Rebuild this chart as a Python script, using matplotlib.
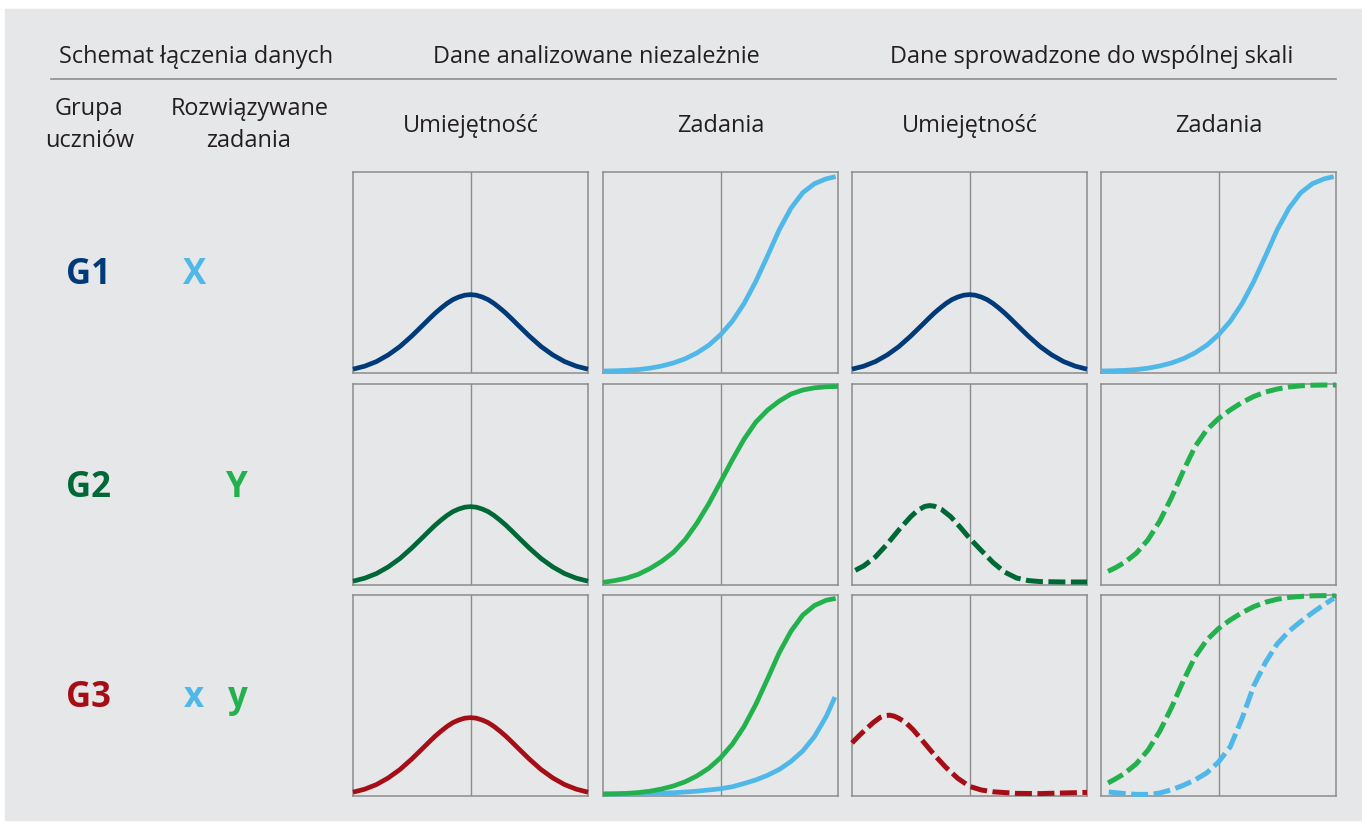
import matplotlib
matplotlib.use("Agg")
import matplotlib.pyplot as plt
from matplotlib.patches import Rectangle
from matplotlib.lines import Line2D

plt.rcParams['font.family'] = ['Open Sans', 'DejaVu Sans']

# colours
DARK_BLUE = '#003a78'
LIGHT_BLUE = '#50b8e8'
DARK_GREEN = '#006837'
GREEN = '#22b14c'
DARK_RED = '#a50e16'
GRID = '#8c8c8c'
TXT = '#231f20'

# header texts
top_headers = ['Schemat łączenia danych', 'Dane analizowane niezależnie',
               'Dane sprowadzone do wspólnej skali']
col_headers = ['Umiejętność', 'Zadania', 'Umiejętność', 'Zadania']
groups = ['G1', 'G2', 'G3']
group_colors = [DARK_BLUE, DARK_GREEN, DARK_RED]

# bell curve (ability distribution), x in panel units 0..1
bell_x = [0.00, 0.05, 0.10, 0.15, 0.20, 0.25, 0.30, 0.325, 0.35, 0.375, 0.40, 0.425, 0.45, 0.475, 0.50,
          0.525, 0.55, 0.575, 0.60, 0.625, 0.65, 0.675, 0.70, 0.75, 0.80, 0.85, 0.90, 0.95, 1.00]
bell_y = [0.019, 0.034, 0.057, 0.090, 0.132, 0.184, 0.241, 0.270, 0.298, 0.323, 0.346, 0.365, 0.378, 0.387, 0.390,
          0.387, 0.378, 0.365, 0.346, 0.323, 0.298, 0.270, 0.241, 0.184, 0.132, 0.090, 0.057, 0.034, 0.019]

# item curve X (independent scale)
itemX_x = [0.00, 0.05, 0.10, 0.15, 0.20, 0.25, 0.30, 0.35, 0.40, 0.45, 0.50, 0.55, 0.60,
           0.65, 0.70, 0.75, 0.80, 0.85, 0.90, 0.95, 0.99]
itemX_y = [0.010, 0.011, 0.013, 0.017, 0.024, 0.035, 0.050, 0.071, 0.100, 0.138, 0.190, 0.257, 0.345,
           0.455, 0.582, 0.713, 0.820, 0.897, 0.942, 0.966, 0.977]

# item curve Y (independent scale, G2)
itemY_x = [0.00, 0.05, 0.10, 0.15, 0.20, 0.25, 0.30, 0.35, 0.40, 0.45, 0.50, 0.55, 0.60,
           0.65, 0.70, 0.75, 0.80, 0.85, 0.90, 0.95, 1.00]
itemY_y = [0.013, 0.022, 0.034, 0.053, 0.082, 0.118, 0.163, 0.226, 0.308, 0.404, 0.512, 0.622, 0.725,
           0.810, 0.870, 0.915, 0.950, 0.970, 0.981, 0.986, 0.988]

# G3 independent: y steep, x only partly
g3y_x = itemX_x
g3y_y = [0.010, 0.011, 0.013, 0.017, 0.024, 0.035, 0.050, 0.071, 0.100, 0.138, 0.190, 0.257, 0.345,
         0.455, 0.582, 0.713, 0.820, 0.900, 0.948, 0.974, 0.983]
g3x_x = [0.00, 0.10, 0.20, 0.30, 0.40, 0.50, 0.55, 0.60, 0.65, 0.70, 0.75, 0.80, 0.85, 0.90, 0.95, 0.987]
g3x_y = [0.010, 0.010, 0.012, 0.016, 0.024, 0.036, 0.046, 0.062, 0.080, 0.103, 0.132, 0.172, 0.224,
         0.296, 0.396, 0.492]

# common scale: G2 ability (shifted left)
g2bell_x = [0.014, 0.05, 0.10, 0.15, 0.20, 0.25, 0.28, 0.31, 0.33, 0.35, 0.38, 0.42, 0.46, 0.50,
            0.55, 0.60, 0.65, 0.70, 0.75, 0.80, 0.90, 1.00]
g2bell_y = [0.073, 0.095, 0.140, 0.204, 0.275, 0.340, 0.372, 0.391, 0.395, 0.392, 0.377, 0.340, 0.288,
            0.233, 0.172, 0.112, 0.064, 0.035, 0.022, 0.017, 0.015, 0.015]

# common scale: G3 ability (shifted further left)
g3bell_x = [0.00, 0.03, 0.06, 0.09, 0.12, 0.14, 0.16, 0.18, 0.20, 0.23, 0.26, 0.30, 0.35, 0.40,
            0.45, 0.50, 0.55, 0.60, 0.70, 0.80, 0.90, 1.00]
g3bell_y = [0.264, 0.300, 0.333, 0.365, 0.391, 0.400, 0.402, 0.397, 0.386, 0.364, 0.330, 0.275, 0.205,
            0.142, 0.088, 0.048, 0.030, 0.021, 0.013, 0.012, 0.015, 0.018]

# common scale: item Y (easier)
cY_x = [0.03, 0.06, 0.10, 0.15, 0.20, 0.25, 0.30, 0.35, 0.40, 0.45, 0.50, 0.55, 0.60, 0.65,
        0.70, 0.75, 0.80, 0.85, 0.90, 0.95, 1.00]
cY_y = [0.068, 0.085, 0.112, 0.158, 0.225, 0.318, 0.435, 0.567, 0.688, 0.772, 0.828, 0.871, 0.908,
        0.938, 0.960, 0.975, 0.985, 0.991, 0.994, 0.995, 0.995]
cY3_y = [0.065, 0.084, 0.112, 0.160, 0.228, 0.322, 0.440, 0.572, 0.692, 0.776, 0.833, 0.876, 0.912,
         0.942, 0.964, 0.979, 0.988, 0.993, 0.996, 0.997, 0.995]

# common scale: item X in G3
cX_x = [0.033, 0.10, 0.15, 0.21, 0.25, 0.30, 0.35, 0.40, 0.45, 0.50, 0.55, 0.60, 0.65, 0.70,
        0.75, 0.80, 0.85, 0.90, 0.95, 0.99]
cX_y = [0.020, 0.012, 0.008, 0.008, 0.015, 0.031, 0.053, 0.080, 0.115, 0.169, 0.245, 0.385, 0.548,
        0.665, 0.757, 0.820, 0.868, 0.912, 0.953, 0.983]

W, H = 1362, 823
fig = plt.figure(figsize=(W / 100, H / 100), dpi=100, facecolor='white')


def fx(px):
    return px / W


def fy(py):
    return 1 - py / H


fig.patches.append(Rectangle((fx(5), fy(820)), fx(1362 - 5), (820 - 9) / H,
                             transform=fig.transFigure, color='#e6e7e8', zorder=-5))
fig.add_artist(Line2D([fx(51), fx(1336)], [fy(79), fy(79)], color=GRID, lw=1.2))

FS = 16.9
# header text
for t, cx in zip(top_headers, [196, 596, 1092]):
    fig.text(fx(cx), fy(63), t, ha='center', va='baseline', fontsize=FS, color=TXT)
fig.text(fx(89), fy(115), 'Grupa', ha='center', va='baseline', fontsize=FS, color=TXT)
fig.text(fx(90), fy(147), 'uczniów', ha='center', va='baseline', fontsize=FS, color=TXT)
fig.text(fx(250), fy(115), 'Rozwiązywane', ha='center', va='baseline', fontsize=FS, color=TXT)
fig.text(fx(249), fy(147), 'zadania', ha='center', va='baseline', fontsize=FS, color=TXT)

lefts = [353, 603, 852, 1101]
tops = [172, 384, 595]
pw, ph = 235, 201
for t, l in zip(col_headers, lefts):
    fig.text(fx(l + pw / 2), fy(132), t, ha='center', va='baseline', fontsize=FS, color=TXT)

# group labels
base = [284, 497, 707]
for g, c, b in zip(groups, group_colors, base):
    fig.text(fx(88), fy(b), g, ha='center', va='baseline', fontsize=25, fontweight='bold', color=c)
fig.text(fx(195), fy(base[0]), 'X', ha='center', va='baseline', fontsize=25, fontweight='bold', color=LIGHT_BLUE)
fig.text(fx(237), fy(base[1]), 'Y', ha='center', va='baseline', fontsize=25, fontweight='bold', color=GREEN)
fig.text(fx(194), fy(base[2]), 'x', ha='center', va='baseline', fontsize=25, fontweight='bold', color=LIGHT_BLUE)
fig.text(fx(238), fy(base[2]), 'y', ha='center', va='baseline', fontsize=25, fontweight='bold', color=GREEN)

axes = {}
for r, top in enumerate(tops):
    for c, l in enumerate(lefts):
        ax = fig.add_axes([fx(l), fy(top + ph), pw / W, ph / H])
        ax.set_facecolor('none')
        ax.set_xlim(0, 1)
        ax.set_ylim(0, 1)
        ax.set_xticks([])
        ax.set_yticks([])
        for s in ax.spines.values():
            s.set_color(GRID)
            s.set_linewidth(1.1)
        ax.axvline(0.5, color=GRID, lw=1.0, zorder=1)
        axes[(r, c)] = ax

solid = dict(lw=3.4, solid_capstyle='butt', solid_joinstyle='round', clip_on=False, zorder=3)
dashed = dict(lw=3.6, linestyle=(0, (3.4, 1.1)), dash_capstyle='butt', dash_joinstyle='round',
              clip_on=False, zorder=3)

# independent analysis
axes[(0, 0)].plot(bell_x, bell_y, color=DARK_BLUE, **solid)
axes[(1, 0)].plot(bell_x, bell_y, color=DARK_GREEN, **solid)
axes[(2, 0)].plot(bell_x, bell_y, color=DARK_RED, **solid)
axes[(0, 1)].plot(itemX_x, itemX_y, color=LIGHT_BLUE, **solid)
axes[(1, 1)].plot(itemY_x, itemY_y, color=GREEN, **solid)
axes[(2, 1)].plot(g3x_x, g3x_y, color=LIGHT_BLUE, **solid)
axes[(2, 1)].plot(g3y_x, g3y_y, color=GREEN, **solid)

# common scale
axes[(0, 2)].plot(bell_x, bell_y, color=DARK_BLUE, **solid)
axes[(0, 3)].plot(itemX_x, itemX_y, color=LIGHT_BLUE, **solid)
axes[(1, 2)].plot(g2bell_x, g2bell_y, color=DARK_GREEN, **dashed)
axes[(1, 3)].plot(cY_x, cY_y, color=GREEN, **dashed)
axes[(2, 2)].plot(g3bell_x, g3bell_y, color=DARK_RED, **dashed)
axes[(2, 3)].plot(cY_x, cY3_y, color=GREEN, **dashed)
axes[(2, 3)].plot(cX_x, cX_y, color=LIGHT_BLUE, **dashed)

fig.savefig('out.png', dpi=100, facecolor='white')
